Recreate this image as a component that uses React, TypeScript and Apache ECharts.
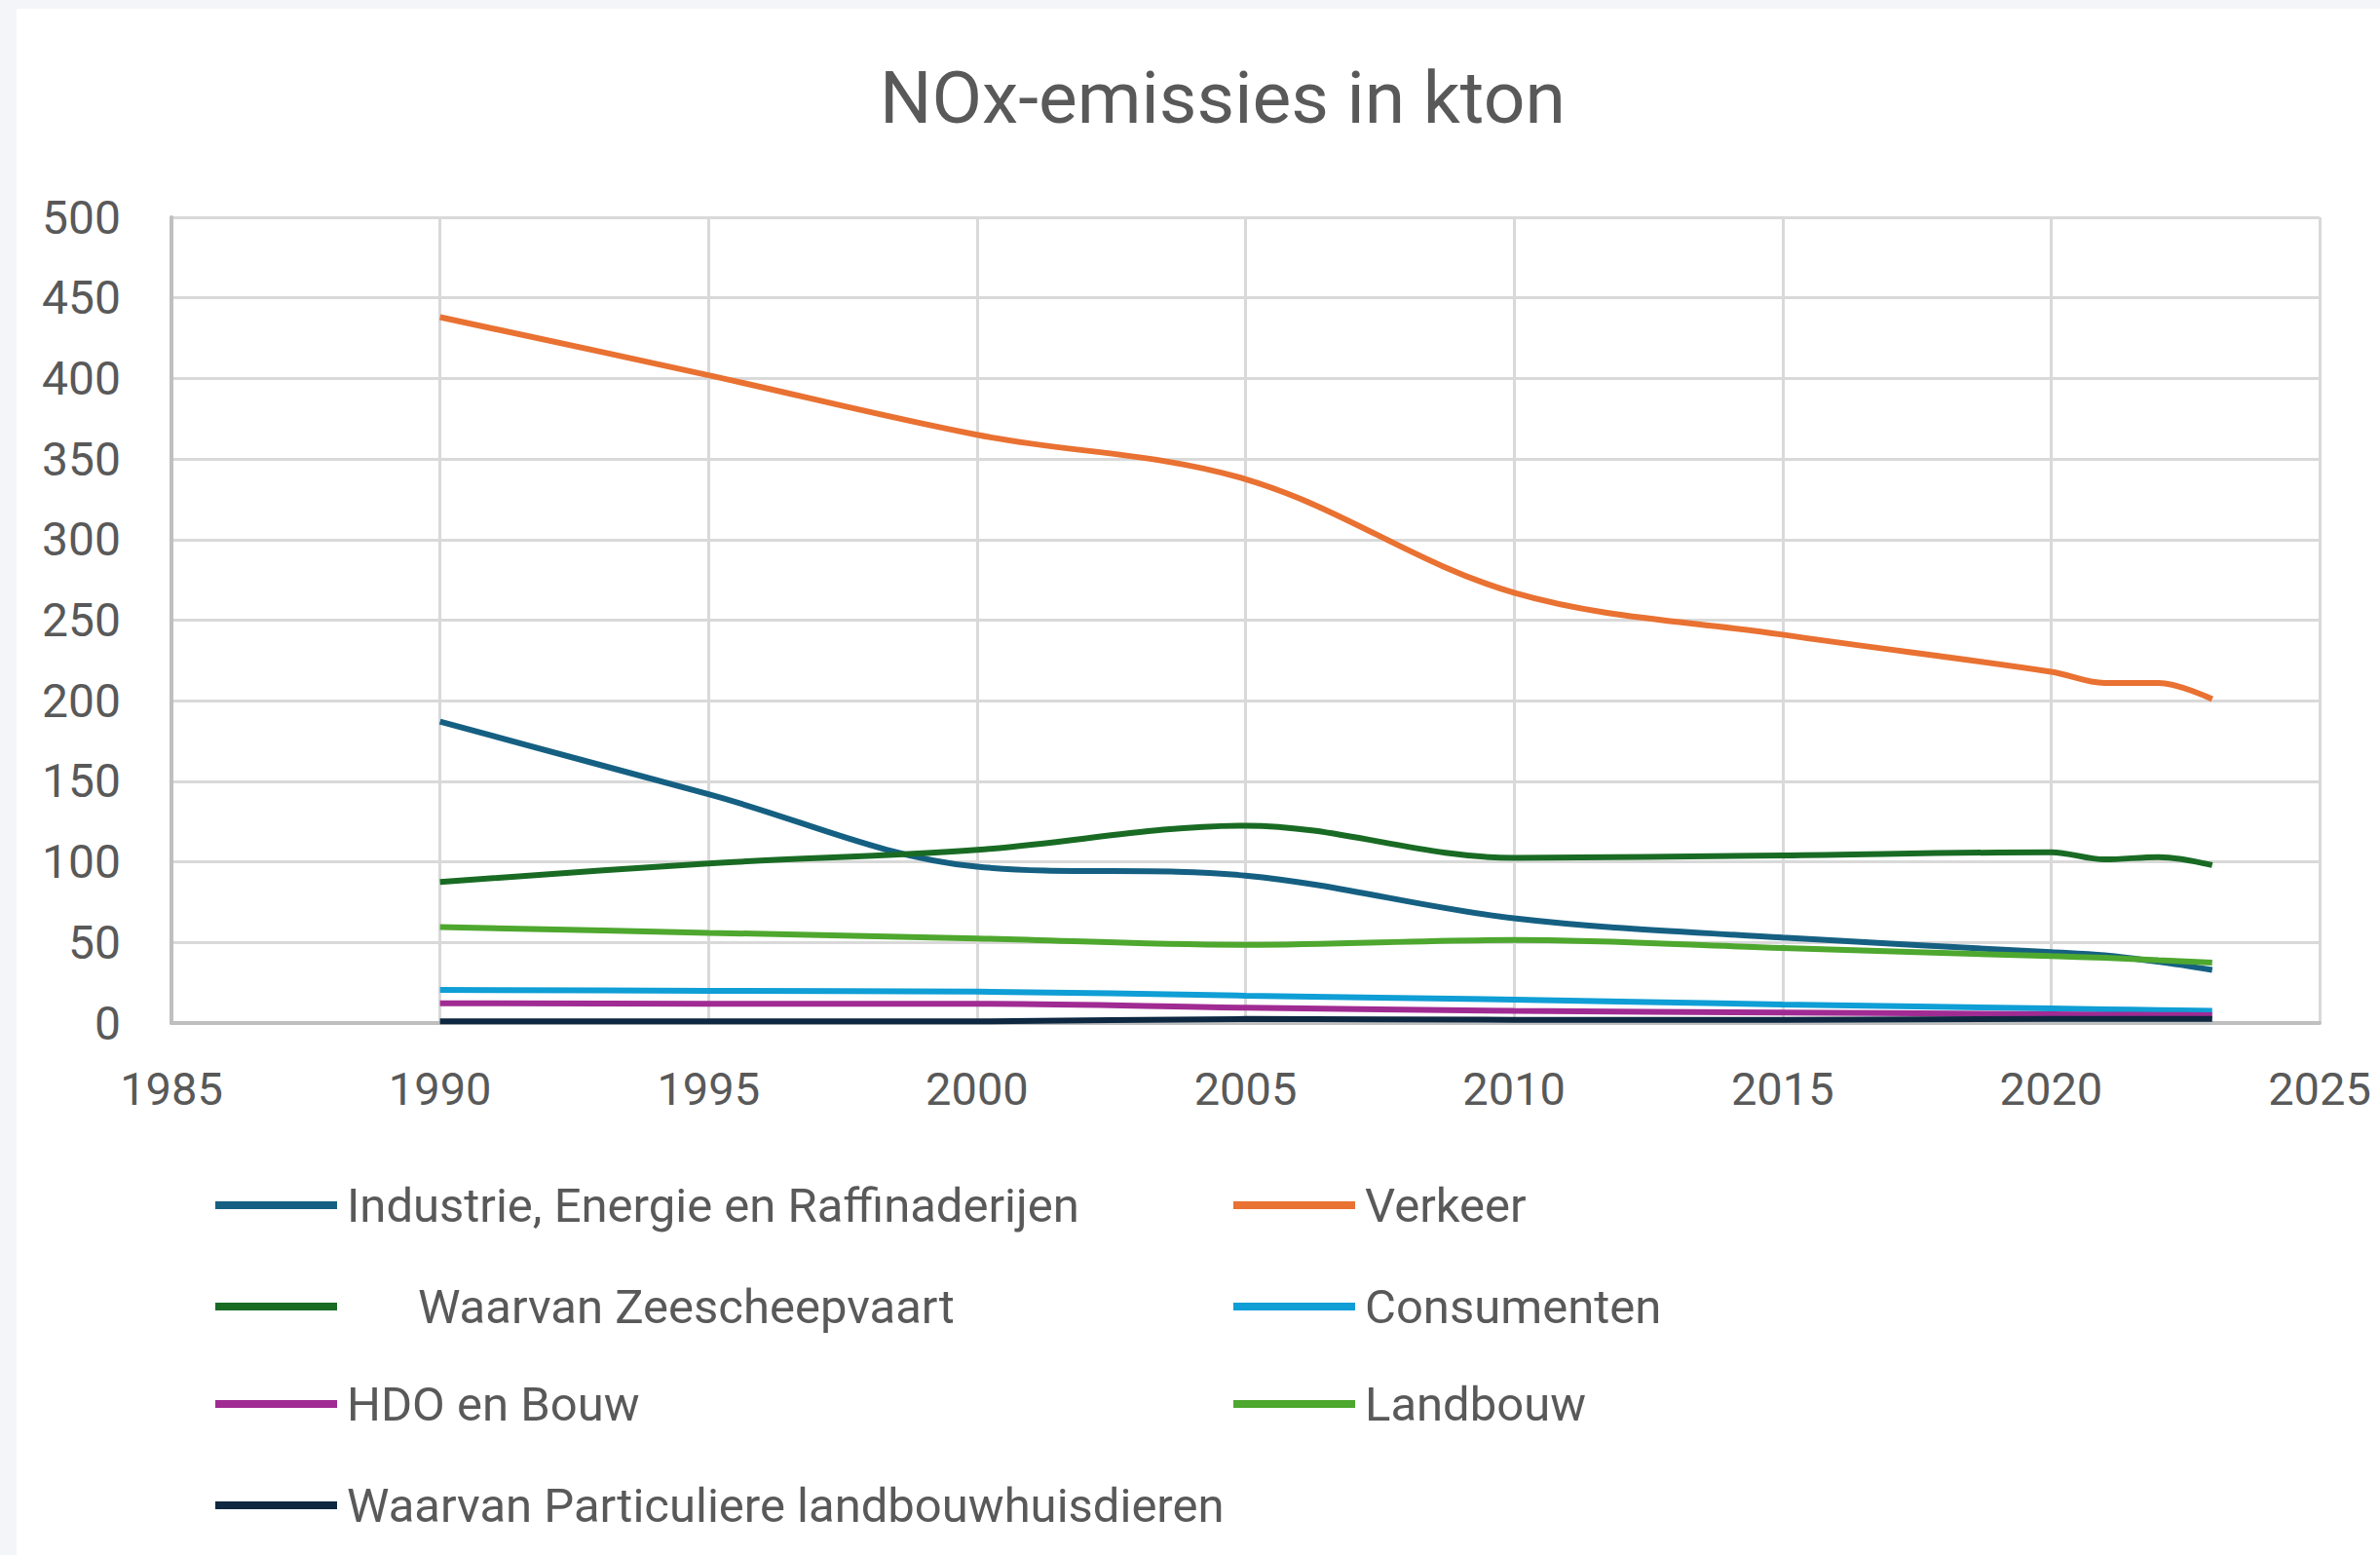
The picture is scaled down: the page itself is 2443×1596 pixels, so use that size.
import React, { useEffect, useRef } from "react";
import * as echarts from "echarts";

const years = [1990, 1995, 2000, 2005, 2010, 2015, 2020, 2021, 2022, 2023];
const industrie = [187, 142, 97, 91.5, 65, 53, 44, 42, 38, 33];
const verkeer = [438, 402, 365, 337.5, 267, 241, 218, 211, 211, 201];
const zeescheepvaart = [87.5, 99, 107.5, 122.5, 102.5, 104, 106, 101.5, 103, 98];
const consumenten = [20.5, 20, 19.5, 17, 14.5, 11.5, 9, 8.5, 8, 7.5];
const hdoBouw = [12.3, 12, 12, 9.5, 7.5, 6.5, 5.5, 5.2, 5, 4.8];
const landbouw = [59.5, 56, 52.5, 48.5, 51.5, 46.5, 41.5, 40.5, 39, 37.5];
const particuliere = [1, 1, 1, 2.5, 2, 2, 2.5, 2.5, 2.5, 2.5];

const names = [
  "Industrie, Energie en Raffinaderijen",
  "Verkeer",
  "      Waarvan Zeescheepvaart",
  "Consumenten",
  "HDO en Bouw",
  "Landbouw",
  "Waarvan Particuliere landbouwhuisdieren",
];
const values = [industrie, verkeer, zeescheepvaart, consumenten, hdoBouw, landbouw, particuliere];
const colors = ["#156082", "#E97132", "#196B24", "#0F9ED5", "#A02B93", "#4EA72E", "#0E2841"];

const FONT = "Roboto";
const GREY = "#595959";

export default function App() {
  const ref = useRef<HTMLDivElement>(null);
  useEffect(() => {
    const chart = echarts.init(ref.current!, null, { renderer: "svg" });
    const legendPos = [
      [221, 1208],
      [1266, 1208],
      [221, 1312],
      [1266, 1312],
      [221, 1412],
      [1266, 1412],
      [221, 1516],
    ];
    const option: any = {
      animation: false,
      backgroundColor: "#f3f5f9",
      graphic: [
        {
          type: "rect",
          shape: { x: 17, y: 9, width: 2443, height: 1600 },
          style: { fill: "#ffffff" },
          z: -10,
          silent: true,
        },
      ],
      title: {
        text: "NOx-emissies in kton",
        left: 903,
        top: 62,
        padding: 0,
        textStyle: { fontFamily: FONT, fontSize: 75, fontWeight: "normal", color: GREY },
      },
      legend: names.map((n, i) => ({
        data: [n],
        left: legendPos[i][0],
        top: legendPos[i][1],
        padding: 0,
        icon: "rect",
        itemWidth: 125,
        itemHeight: 8,
        textStyle: {
          fontFamily: FONT,
          fontSize: 49,
          color: GREY,
          lineHeight: 58,
          padding: [0, 0, 0, 5],
        },
      })),
      grid: { left: 176, right: 62, top: 223, bottom: 546, containLabel: false },
      xAxis: {
        type: "value",
        min: 1985,
        max: 2025,
        interval: 5,
        axisLine: { show: true, lineStyle: { color: "#bfbfbf", width: 4 } },
        axisTick: { show: false },
        splitLine: { show: true, lineStyle: { color: "#d9d9d9", width: 3 } },
        axisLabel: {
          fontFamily: FONT,
          fontSize: 47,
          color: GREY,
          margin: 44,
          formatter: (v: number) => String(v),
        },
      },
      yAxis: {
        type: "value",
        min: 0,
        max: 500,
        interval: 50,
        axisLine: { show: true, lineStyle: { color: "#bfbfbf", width: 4 } },
        axisTick: { show: false },
        splitLine: { show: true, lineStyle: { color: "#d9d9d9", width: 3 } },
        axisLabel: {
          fontFamily: FONT,
          fontSize: 48,
          color: GREY,
          margin: 52,
          formatter: (v: number) => String(v),
        },
      },
      series: names.map((n, i) => ({
        name: n,
        type: "line",
        smooth: 0.35,
        showSymbol: false,
        symbol: "none",
        color: colors[i],
        lineStyle: { color: colors[i], width: 6 },
        data: years.map((y, k) => [y, values[i][k]]),
      })),
    };
    chart.setOption(option);
    return () => chart.dispose();
  }, []);
  return (
    <div
      ref={ref}
      style={{ position: "fixed", left: 0, top: 0, width: 2443, height: 1596 }}
    />
  );
}
